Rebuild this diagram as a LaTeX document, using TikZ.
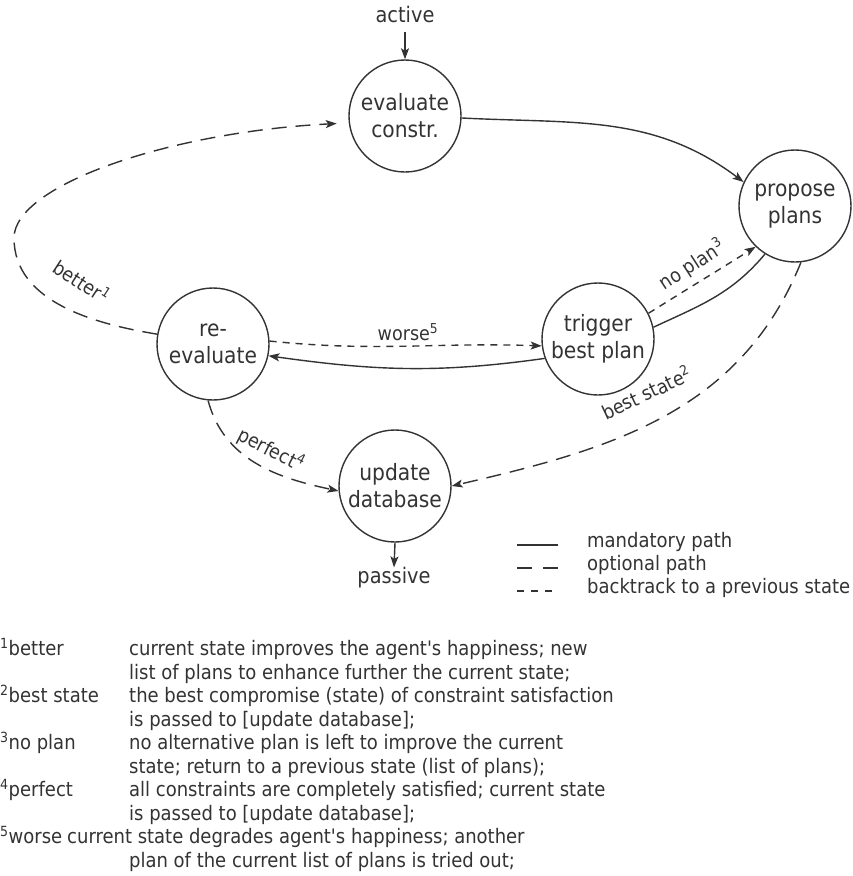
\documentclass[tikz,border=0pt]{standalone}
\usepackage{fontspec}
\setmainfont{DejaVu Sans Condensed}
\usetikzlibrary{arrows.meta}
\begin{document}
\begin{tikzpicture}[x=1pt,y=1pt,
  ink/.style={draw=black!80, line width=1.4pt},
  state/.style={circle, ink, minimum size=112pt, inner sep=0pt, align=center,
    text=black!80, font=\fontsize{22.5}{27}\selectfont},
  tip/.style={-{Stealth[length=11pt,width=8pt,inset=2.5pt]}},
  mandatory/.style={ink, tip},
  optional/.style={ink, tip, dash pattern=on 15pt off 9pt},
  backtrack/.style={ink, tip, dash pattern=on 7pt off 6pt},
  elabel/.style={text=black!80, font=\fontsize{19.5}{22}\selectfont, inner sep=0pt},
  term/.style={text=black!80, font=\fontsize{21.5}{26}\selectfont, inner sep=0pt},
  note/.style={text=black!80, font=\fontsize{20}{23.5}\selectfont, inner sep=0pt, anchor=mid west},
]
\useasboundingbox (0,0) rectangle (853,-876);

% states
\node[state] (eval) at (405,-116) {evaluate\\constr.};
\node[state] (prop) at (795,-206) {propose\\plans};
\node[state] (reev) at (213,-344) {re-\\evaluate};
\node[state] (trig) at (598,-339) {trigger\\best plan};
\node[state] (upd)  at (395,-486) {update\\database};

% entry and exit
\node[term] (act) at (405,-14) {active};
\node[term] (pas) at (394,-578) {passive};
\draw[mandatory, shorten <=9pt] (act.south) -- (eval.north);
\draw[mandatory] (upd.south) -- (pas.north);

% mandatory paths
\draw[mandatory] (eval.-2) to[out=-3, in=143] (prop.155);
\draw[ink] (trig.12) to[out=25, in=230] (prop.238);
\draw[mandatory] (trig.200) to[out=188, in=-8] (reev.-12);

% backtracking
\draw[backtrack] (reev.3) to[out=-6, in=178] (trig.187);
\draw[backtrack] (trig.27) to[out=32, in=212] (prop.226);

% optional paths
\coordinate (loop) at (14,-238);
\draw[optional, shorten >=12pt] (reev.170) .. controls (95,-324) and (14,-302) .. (loop)
  .. controls (14,-185) and (170,-132) .. (eval.187);
\draw[optional] (prop.-84) to[out=248, in=13] (upd.0);
\draw[optional] (reev.-95) to[out=-75, in=168] (upd.185);

% edge labels
\node[elabel, rotate=-33] (lbetter) at (82,-281) {better\textsuperscript{1}};
\node[elabel] (lworse) at (408,-332) {worse\textsuperscript{5}};
\node[elabel, rotate=33] (lnoplan) at (692,-265) {no plan\textsuperscript{3}};
\node[elabel, rotate=25] (lbest) at (646,-392) {best state\textsuperscript{2}};
\node[elabel, rotate=-27] (lperfect) at (271,-450) {perfect\textsuperscript{4}};

% legend
\node[note] (lgA) at (587,-545) {mandatory path};
\node[note] (lgB) at (587,-568) {optional path};
\node[note] (lgC) at (587,-591) {backtrack to a previous state};
\draw[ink] ([xshift=-70pt]lgA.mid west) -- ([xshift=-29pt]lgA.mid west);
\draw[ink, dash pattern=on 15pt off 11pt] ([xshift=-70pt]lgB.mid west) -- ([xshift=-29pt]lgB.mid west);
\draw[ink, dash pattern=on 7pt off 7pt] ([xshift=-70pt]lgC.mid west) -- ([xshift=-29pt]lgC.mid west);

% footnotes
\node[note] (n1k) at (0,-653) {\textsuperscript{1}better};
\node[note] (n1a) at (129,-653) {current state improves the agent\textquotesingle s happiness; new};
\node[note] (n1b) at (129,-676.5) {list of plans to enhance further the current state;};
\node[note] (n2k) at (0,-700) {\textsuperscript{2}best state};
\node[note] (n2a) at (129,-700) {the best compromise (state) of constraint satisfaction};
\node[note] (n2b) at (129,-723.5) {is passed to [update database];};
\node[note] (n3k) at (0,-747) {\textsuperscript{3}no plan};
\node[note] (n3a) at (129,-747) {no alternative plan is left to improve the current};
\node[note] (n3b) at (129,-770.5) {state; return to a previous state (list of plans);};
\node[note] (n4k) at (0,-794) {\textsuperscript{4}perfect};
\node[note] (n4a) at (129,-794) {all constraints are completely satisfied; current state};
\node[note] (n4b) at (129,-817.5) {is passed to [update database];};
\node[note] (n5k) at (0,-841) {\textsuperscript{5}worse};
\node[note] (n5a) at (67,-841) {current state degrades agent\textquotesingle s happiness; another};
\node[note] (n5b) at (129,-864.5) {plan of the current list of plans is tried out;};
\end{tikzpicture}
\end{document}
